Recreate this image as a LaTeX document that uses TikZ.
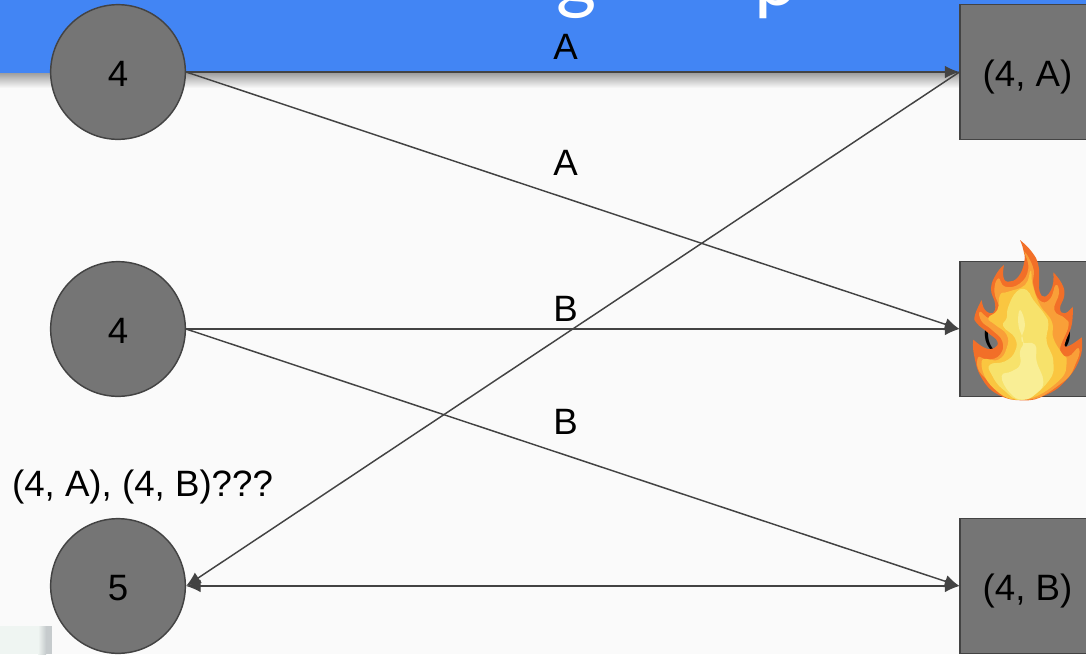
\documentclass[tikz,border=0pt]{standalone}
\usepackage{fontspec}
\setmainfont{Liberation Sans}
\newfontfamily\titlefont{Lato}
\usepackage{xcolor}
\usetikzlibrary{positioning, arrows.meta}

\definecolor{pagebg}{HTML}{FAFAFA}
\definecolor{bandblue}{HTML}{4285F4}
\definecolor{boxgray}{HTML}{757575}
\definecolor{linegray}{HTML}{434343}
\definecolor{photomint}{HTML}{EFF5F2}
\definecolor{photogray}{HTML}{C6CBCD}
\definecolor{flamea}{HTML}{F26F28}
\definecolor{flameb}{HTML}{F99F38}
\definecolor{flamec}{HTML}{FAC640}
\definecolor{flamed}{HTML}{F7E26B}
\definecolor{flamee}{HTML}{F9EE95}

\tikzset{
  val/.style={circle, draw=linegray, line width=1.1pt, fill=boxgray, minimum size=101pt, inner sep=0pt, text height=21pt, text depth=0pt, font=\fontsize{27.5}{30}\selectfont},
  pair/.style={rectangle, draw=linegray, line width=1.1pt, fill=boxgray, minimum size=101pt, inner sep=0pt, text height=21pt, text depth=0pt, font=\fontsize{27.5}{30}\selectfont},
  lbl/.style={inner sep=0pt, font=\fontsize{27.5}{30}\selectfont},
  conn/.style={draw=linegray, line width=1.1pt, -{Latex[length=11pt,width=9.5pt]}},
  titlepart/.style={inner sep=0pt, anchor=base, text=white, font=\titlefont\fontsize{58}{60}\selectfont}
}

\begin{document}
\begin{tikzpicture}[x=0.75pt, y=-0.75pt]
\useasboundingbox (0,0) rectangle (1086,654);
\fill[pagebg] (0,0) rectangle (1086,654);
\shade[top color=gray!75, bottom color=pagebg] (0,73) rectangle (1086,88);
\fill[bandblue] (0,0) rectangle (1086,73);
\begin{scope}
\clip (0,0) rectangle (1086,73);
\node[titlepart] (titleg) at (577,4) {g};
\node[titlepart] (titlep) at (776,5) {p};
\end{scope}
\fill[photomint] (0,626) rectangle (38,654);
\shade[left color=photomint, right color=photogray] (38,626) rectangle (46,654);
\fill[photogray] (46,626) rectangle (52,654);

% values
\node[val] (four a) at (118,72) {4};
\node[val] (four b) at (118,329) {4};
\node[val] (five) at (118,586) {5};

% pairs
\node[pair] (pair a) at (1027.5,72) {(4, A)};
\node[pair] (pair f) at (1027.5,329) {(\phantom{4, A})};
\node[pair] (pair b) at (1027.5,586) {(4, B)};

\draw[conn] (four a.east) -- (pair a.west);
\draw[conn] (four a.east) -- (pair f.west);
\draw[conn] (four b.east) -- (pair f.west);
\draw[conn] (four b.east) -- (pair b.west);
\draw[conn] (pair a.west) -- (five.east);
\draw[conn, {Latex[length=11pt,width=9.5pt]}-{Latex[length=11pt,width=9.5pt]}] (five.east) -- (pair b.west);

\node[lbl] (label a) at (565.5,47) {A};
\node[lbl] (label c) at (565.5,163) {A};
\node[lbl] (label b) at (565.5,309) {B};
\node[lbl] (label d) at (565.5,422) {B};
\node[lbl] (label five) at (142.5,487) {(4, A), (4, B)???};

% fire
\begin{scope}[shift={(940,230)}, x=0.25pt, y=-0.25pt]
\fill[flamea] plot[smooth, tension=.8] coordinates {(240,30) (275,65) (295,105) (297,155) (299,185) (315,200) (337,170) (340,127)}
  -- plot[smooth, tension=.8] coordinates {(340,127) (365,160) (373,195) (360,235) (375,250) (398,230)}
  -- plot[smooth, tension=.8] coordinates {(398,230) (395,285) (375,349) (425,322)}
  -- plot[smooth, tension=.8] coordinates {(425,322) (420,384) (375,454) (315,496) (250,511) (175,494) (125,444) (102,374) (100,329)}
  -- plot[smooth, tension=.8] coordinates {(100,329) (135,354) (163,354) (172,334) (145,309) (110,279) (105,255) (125,210)}
  -- plot[smooth, tension=.8] coordinates {(125,210) (135,240) (160,248) (165,220) (153,175) (170,130) (192,105)}
  -- plot[smooth, tension=.8] coordinates {(192,105) (190,140) (205,155) (235,140) (253,95) (250,60) (240,30)} -- cycle;
\fill[flameb] plot[smooth cycle, tension=.8] coordinates {(253,65) (280,115) (280,165) (300,212) (330,207) (347,165) (357,190) (343,240) (375,265) (385,290) (360,359) (385,379) (415,354) (410,394) (365,459) (250,509) (135,444) (113,384) (145,389) (180,374) (187,334) (155,299) (125,274) (120,245) (150,265) (178,240) (163,185) (175,145) (195,170) (240,160) (265,115)};
\fill[flamec] plot[smooth cycle, tension=.8] coordinates {(272,122) (278,165) (300,225) (335,274) (340,324) (365,369) (380,394) (355,454) (250,509) (160,474) (125,394) (175,389) (200,354) (200,314) (165,284) (145,264) (172,240) (180,195) (205,185) (255,165)};
\fill[flamed] plot[smooth cycle, tension=.8] coordinates {(230,185) (260,180) (280,210) (315,255) (325,284) (320,334) (340,394) (325,454) (250,509) (190,479) (155,434) (150,404) (195,394) (225,364) (225,324) (190,289) (200,264) (205,230)};
\fill[flamee] plot[smooth cycle, tension=.8] coordinates {(240,240) (255,284) (245,334) (285,344) (290,394) (310,454) (290,489) (250,509) (210,489) (185,439) (215,424) (240,404) (240,364) (250,334) (235,284)};
\end{scope}
\end{tikzpicture}
\end{document}
